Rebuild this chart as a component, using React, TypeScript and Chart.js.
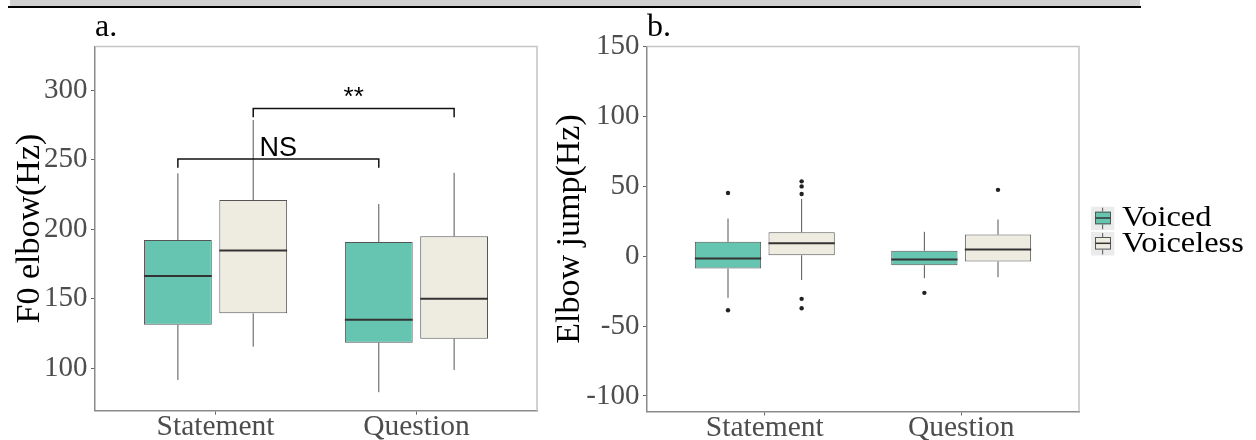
import React, { useEffect, useRef } from 'react';
import { Chart, registerables } from 'chart.js';

Chart.register(...registerables);

// ---------- data ----------
const CATEGORIES = ['Statement', 'Question'];
const SERIES = ['Voiced', 'Voiceless'];
const COLORS = ['#66c5b0', '#eeece0'];

// Panel a: F0 elbow (Hz), indexed [category][series]
const A_MIN = [[91.6, 115.5], [82.8, 98.8]];
const A_Q1 = [[131.2, 139.5], [118.4, 121.2]];
const A_MED = [[166.4, 184.6], [134.8, 150.0]];
const A_Q3 = [[192.2, 221.0], [190.8, 194.9]];
const A_MAX = [[240.1, 278.4], [218.1, 240.5]];
const A_OUT: number[][][] = [[[], []], [[], []]];
const A_TICKS = [100, 150, 200, 250, 300];
const A_RANGE = [69.5, 331.3];

// Panel b: Elbow jump (Hz)
const B_MIN = [[-29.8, -17.0], [-15.7, -15.0]];
const B_Q1 = [[-8.8, 0.7], [-6.4, -3.8]];
const B_MED = [[-1.6, 9.3], [-2.4, 4.8]];
const B_Q3 = [[10.3, 17.2], [3.9, 15.5]];
const B_MAX = [[27.0, 41.0], [17.5, 26.3]];
const B_OUT: number[][][] = [[[45.3, -38.6], [53.6, 50.0, 44.6, -30.5, -37.2]], [[-26.2], [47.5]]];
const B_TICKS = [-100, -50, 0, 50, 100, 150];
const B_RANGE = [-111.1, 150.1];

// Significance brackets (panel a): [category, series] endpoints
const SIG_TEXT = ['NS', '**'];
const SIG_FROM = [[0, 0], [0, 1]];
const SIG_TO = [[1, 0], [1, 1]];
const SIG_Y = [250.4, 286.8];
const SIG_DROP = [6.2, 6.4];

// ---------- styling ----------
const SERIF = "'Liberation Serif', 'Times New Roman', serif";
const SANS = "'Liberation Sans', Arial, sans-serif";
const DODGE = 0.75;
const BAR_PCT = 0.9;
const offsetOf = (s: number) => (s - (SERIES.length - 1) / 2) * (DODGE / SERIES.length);
const HALF_BOX = (DODGE / SERIES.length) * BAR_PCT / 2;
const xOf = (g: number, s: number) => g + 1 + offsetOf(s);

function buildDatasets(MIN: number[][], Q1: number[][], MED: number[][], Q3: number[][], MAX: number[][], OUT: number[][][]) {
  const ds: any[] = [];
  SERIES.forEach((name, s) => {
    ds.push({
      type: 'bar',
      label: name,
      data: CATEGORIES.map((_, g) => ({ x: g + 1, y: [Q1[g][s], Q3[g][s]] })),
      backgroundColor: COLORS[s],
      borderColor: '#555555',
      borderWidth: 1,
      borderSkipped: false,
      categoryPercentage: DODGE,
      barPercentage: BAR_PCT,
      order: 2,
    });
  });
  CATEGORIES.forEach((_, g) => {
    SERIES.forEach((__, s) => {
      const c = xOf(g, s);
      const line = { type: 'line', borderColor: '#555555', borderWidth: 1, pointRadius: 0, fill: false, order: 3 };
      ds.push({ ...line, data: [{ x: c, y: MIN[g][s] }, { x: c, y: Q1[g][s] }] });
      ds.push({ ...line, data: [{ x: c, y: Q3[g][s] }, { x: c, y: MAX[g][s] }] });
      ds.push({
        type: 'line', borderColor: '#333333', borderWidth: 2, pointRadius: 0, fill: false, order: 1,
        data: [{ x: c - HALF_BOX, y: MED[g][s] }, { x: c + HALF_BOX, y: MED[g][s] }],
      });
      if (OUT[g][s].length) {
        ds.push({
          type: 'line', showLine: false, pointRadius: 2.2, pointBackgroundColor: '#222222',
          pointBorderWidth: 0, order: 1,
          data: OUT[g][s].map((v) => ({ x: c, y: v })),
        });
      }
    });
  });
  return ds;
}

function bracketDatasets() {
  return SIG_TEXT.map((_, i) => {
    const x1 = xOf(SIG_FROM[i][0], SIG_FROM[i][1]);
    const x2 = xOf(SIG_TO[i][0], SIG_TO[i][1]);
    const y = SIG_Y[i];
    const yl = y - SIG_DROP[i];
    return {
      type: 'line', borderColor: '#111111', borderWidth: 1.5, pointRadius: 0, fill: false, order: 0,
      data: [{ x: x1, y: yl }, { x: x1, y }, { x: x2, y }, { x: x2, y: yl }],
    };
  });
}

const framePlugin = {
  id: 'frame',
  afterDatasetsDraw(chart: any) {
    const { ctx, chartArea: a } = chart;
    ctx.save();
    ctx.strokeStyle = '#c4c4c4';
    ctx.lineWidth = 1.5;
    ctx.beginPath();
    ctx.moveTo(a.left, a.top);
    ctx.lineTo(a.right, a.top);
    ctx.lineTo(a.right, a.bottom);
    ctx.stroke();
    ctx.restore();
  },
};

function tagPlugin(tag: string) {
  return {
    id: 'tag',
    afterDraw(chart: any) {
      const { ctx, chartArea: a } = chart;
      ctx.save();
      ctx.font = `32px ${SERIF}`;
      ctx.fillStyle = '#000';
      ctx.textBaseline = 'alphabetic';
      ctx.textAlign = 'left';
      ctx.fillText(tag, a.left, 35.5);
      ctx.restore();
    },
  };
}

const sigPlugin = {
  id: 'sig',
  afterDatasetsDraw(chart: any) {
    const { ctx } = chart;
    const xs = chart.scales.x;
    const ys = chart.scales.y;
    ctx.save();
    ctx.fillStyle = '#000';
    ctx.textAlign = 'center';
    ctx.textBaseline = 'alphabetic';
    SIG_TEXT.forEach((t, i) => {
      const x1 = xOf(SIG_FROM[i][0], SIG_FROM[i][1]);
      const x2 = xOf(SIG_TO[i][0], SIG_TO[i][1]);
      const px = xs.getPixelForValue((x1 + x2) / 2);
      const py = ys.getPixelForValue(SIG_Y[i]);
      ctx.font = t === 'NS' ? `27px ${SANS}` : `26px ${SANS}`;
      ctx.fillText(t, px, py - 3);
    });
    ctx.restore();
  },
};

const legendPlugin = {
  id: 'boxLegend',
  afterDraw(chart: any) {
    const { ctx, chartArea: a } = chart;
    const key = 23.3;
    const step = 25.3;
    const left = a.right + 12;
    const top0 = (a.top + a.bottom) / 2 - 22.3;
    ctx.save();
    SERIES.forEach((name, s) => {
      const top = top0 + s * step;
      ctx.fillStyle = '#ebebeb';
      ctx.fillRect(left, top, key, key + 0.2);
      const cx = left + key / 2;
      ctx.strokeStyle = '#555555';
      ctx.lineWidth = 1;
      ctx.beginPath();
      ctx.moveTo(cx, top + 1);
      ctx.lineTo(cx, top + 5);
      ctx.moveTo(cx, top + 17.6);
      ctx.lineTo(cx, top + 22.5);
      ctx.stroke();
      ctx.fillStyle = COLORS[s];
      ctx.fillRect(left + 4, top + 5, 16, 12.6);
      ctx.strokeRect(left + 4.5, top + 5.5, 15, 11.6);
      ctx.strokeStyle = '#333333';
      ctx.lineWidth = 1.5;
      ctx.beginPath();
      ctx.moveTo(left + 4.5, top + 11.3);
      ctx.lineTo(left + 19.5, top + 11.3);
      ctx.stroke();
      ctx.save();
      ctx.translate(left + 31, top + 19.5);
      ctx.scale(1.08, 1);
      ctx.font = `30px ${SERIF}`;
      ctx.fillStyle = '#000';
      ctx.textAlign = 'left';
      ctx.textBaseline = 'alphabetic';
      ctx.fillText(name, 0, 0);
      ctx.restore();
    });
    ctx.restore();
  },
};

function makeConfig(opts: {
  datasets: any[]; ticks: number[]; range: number[]; title: string;
  yWidth: number; xHeight: number; padRight: number; plugins: any[];
}) {
  return {
    type: 'bar',
    data: { datasets: opts.datasets },
    options: {
      animation: false,
      responsive: false,
      maintainAspectRatio: false,
      events: [],
      layout: { padding: { top: 46.5, right: opts.padRight, left: 0, bottom: 0 } },
      plugins: { legend: { display: false }, tooltip: { enabled: false }, title: { display: false } },
      scales: {
        x: {
          type: 'linear',
          min: 0.4,
          max: 2.6,
          offset: false,
          afterBuildTicks: (s: any) => { s.ticks = CATEGORIES.map((_, i) => ({ value: i + 1 })); },
          afterFit: (s: any) => { s.height = opts.xHeight; },
          ticks: {
            autoSkip: false,
            maxRotation: 0,
            padding: -2,
            color: '#4d4d4d',
            font: { family: SERIF, size: 29.5, lineHeight: 1 },
            callback: (v: any) => CATEGORIES[Math.round(v) - 1] ?? '',
          },
          grid: { display: true, drawOnChartArea: false, drawTicks: true, tickLength: 4, color: '#666666', offset: false },
          border: { display: true, color: '#8a8a8a', width: 1.5 },
        },
        y: {
          type: 'linear',
          min: opts.range[0],
          max: opts.range[1],
          afterBuildTicks: (s: any) => { s.ticks = opts.ticks.map((v) => ({ value: v })); },
          afterFit: (s: any) => { s.width = opts.yWidth; },
          ticks: {
            padding: 3.5,
            color: '#4d4d4d',
            font: { family: SERIF, size: 29, lineHeight: 1 },
            callback: (v: any) => String(v),
          },
          grid: { display: true, drawOnChartArea: false, drawTicks: true, tickLength: 4, color: '#666666' },
          border: { display: true, color: '#8a8a8a', width: 1.5 },
          title: {
            display: true,
            text: opts.title,
            color: '#000',
            font: { family: SERIF, size: 34, lineHeight: 1 },
            padding: { top: 13, bottom: 0 },
          },
        },
      },
    },
    plugins: opts.plugins,
  };
}

function Panel(props: { left: number; width: number; config: any }) {
  const ref = useRef<HTMLCanvasElement | null>(null);
  useEffect(() => {
    if (!ref.current) return;
    const chart = new Chart(ref.current, props.config);
    return () => chart.destroy();
  }, []);
  return (
    <canvas
      ref={ref}
      width={props.width}
      height={440}
      style={{ position: 'absolute', left: props.left, top: 0, width: props.width, height: 440 }}
    />
  );
}

export default function App() {
  const configA = makeConfig({
    datasets: [...buildDatasets(A_MIN, A_Q1, A_MED, A_Q3, A_MAX, A_OUT), ...bracketDatasets()],
    ticks: A_TICKS,
    range: A_RANGE,
    title: 'F0 elbow(Hz)',
    yWidth: 95,
    xHeight: 440 - 410.7,
    padRight: 560 - 537,
    plugins: [framePlugin, tagPlugin('a.'), sigPlugin],
  });
  const configB = makeConfig({
    datasets: buildDatasets(B_MIN, B_Q1, B_MED, B_Q3, B_MAX, B_OUT),
    ticks: B_TICKS,
    range: B_RANGE,
    title: 'Elbow jump(Hz)',
    yWidth: 107,
    xHeight: 440 - 411.5,
    padRight: 716 - 539,
    plugins: [framePlugin, tagPlugin('b.'), legendPlugin],
  });
  return (
    <div style={{ position: 'absolute', left: 0, top: 0, width: 1256, height: 440, background: '#fff', overflow: 'hidden' }}>
      <div style={{ position: 'absolute', left: 10, top: 0, width: 1130, height: 5.5, background: '#d0d0d0' }} />
      <div style={{ position: 'absolute', left: 8, top: 5.5, width: 1133, height: 2, background: '#000' }} />
      <Panel left={0} width={560} config={configA} />
      <Panel left={540} width={716} config={configB} />
    </div>
  );
}
